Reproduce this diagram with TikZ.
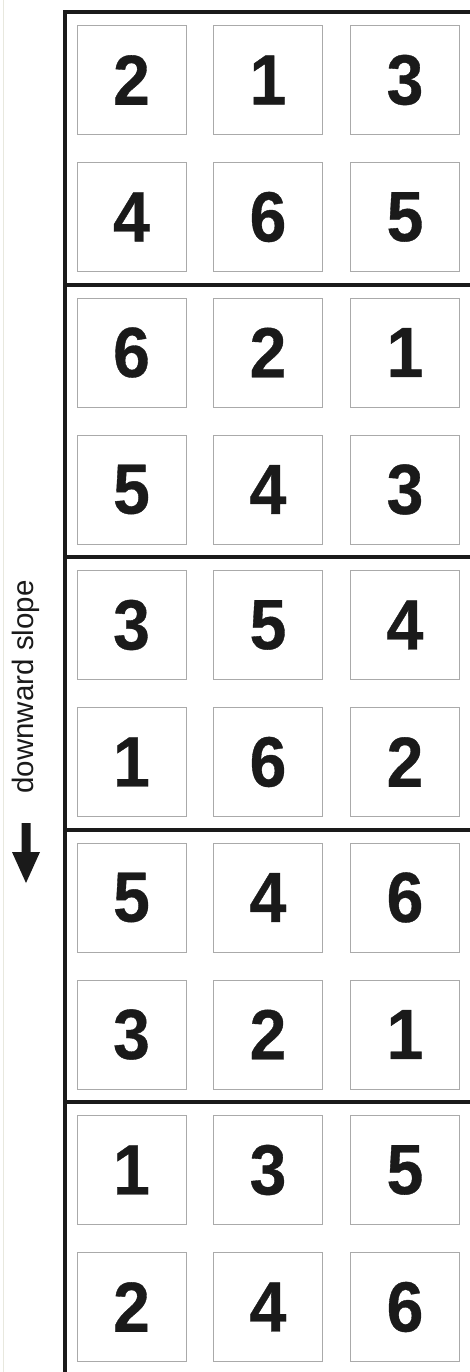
\documentclass[tikz,border=0pt]{standalone}
\usepackage{fontspec}
\setmainfont{Liberation Sans}
\newfontfamily\digitfont[FakeBold=0.5,FakeStretch=0.93]{Liberation Sans Bold}
\definecolor{framecol}{RGB}{26,26,26}
\definecolor{boxcol}{RGB}{170,170,170}
\definecolor{edgecol}{RGB}{232,232,222}
\begin{document}
\begin{tikzpicture}[x=1pt,y=-1pt,
  cell/.style={draw=boxcol,line width=1pt,fill=white,minimum width=109pt,minimum height=109pt,inner sep=0pt,font=\digitfont\fontsize{71}{71}\selectfont,text=framecol},
  frame/.style={draw=framecol,line width=4pt},
  label/.style={font=\fontsize{29.5}{29.5}\selectfont,rotate=90,text=framecol}]
\useasboundingbox (0,0) rectangle (470,1372);
\fill[white] (0,0) rectangle (470,1372);
\draw[edgecol,line width=1pt] (3.5,0) -- (3.5,1372);
% frame
\draw[frame] (64.5,1372) -- (64.5,12) -- (470,12);
\foreach \g in {1,...,4}{
  \draw[frame] (64.5,{12+272.5*\g}) -- (470,{12+272.5*\g});
}
% cells
\foreach \row/\a/\b/\c [count=\i from 0] in {
  0/2/1/3, 1/4/6/5, 2/6/2/1, 3/5/4/3, 4/3/5/4,
  5/1/6/2, 6/5/4/6, 7/3/2/1, 8/1/3/5, 9/2/4/6}{
  \pgfmathsetmacro{\gg}{int(\i/2)}
  \pgfmathsetmacro{\rr}{\i-2*\gg}
  \pgfmathsetmacro{\yy}{80+272.5*\gg+137*\rr}
  \node[cell] (c\i a) at (131.5,\yy) {\a};
  \node[cell] (c\i b) at (268,\yy) {\b};
  \node[cell] (c\i c) at (405,\yy) {\c};
}
% label and arrow
\node[label] (lab) at (26,687) {downward slope};
\fill[framecol] (21.5,823) -- (30.5,823) -- (30.5,852) -- (40,852) -- (26,883) -- (12,852) -- (21.5,852) -- cycle;
\end{tikzpicture}
\end{document}
